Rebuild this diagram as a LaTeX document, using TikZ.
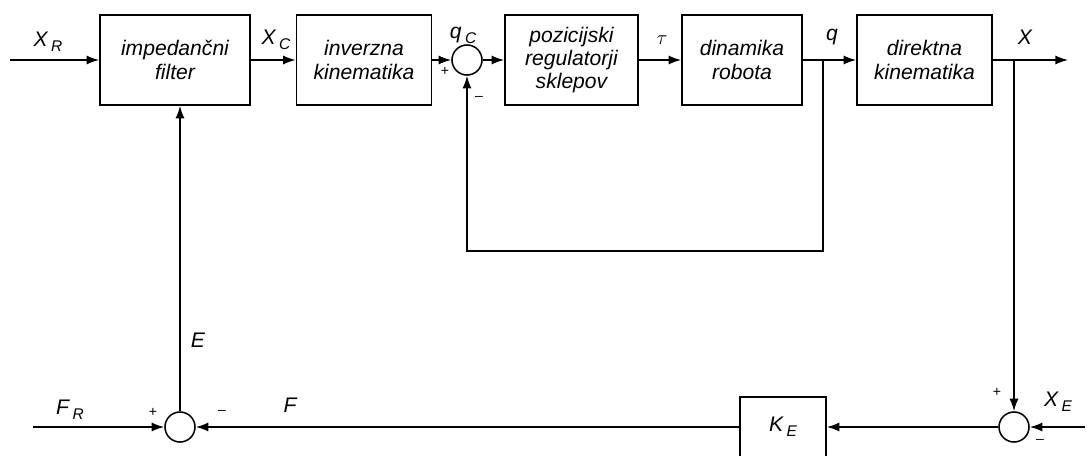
\documentclass[tikz,border=0pt]{standalone}
\usepackage{fontspec}
\setmainfont{Liberation Sans}
\usetikzlibrary{arrows.meta, positioning}

\newcommand{\lowsub}[1]{\,\raisebox{-0.45ex}{\fontsize{11}{12}\selectfont #1}}

\begin{document}
\begin{tikzpicture}[
                x=0.025cm, y=-0.025cm,
                block/.style={draw, rectangle, align=center, inner sep=0pt, line width=1.1pt,
                              minimum height=2.25cm, font=\itshape\fontsize{15}{16.5}\selectfont},
                sum/.style={draw, circle, minimum size=0.75cm, inner sep=0pt, line width=1.1pt},
                lbl/.style={inner sep=0pt, font=\itshape\fontsize{15}{17}\selectfont},
                sgn/.style={inner sep=0pt, font=\fontsize{10}{12}\selectfont},
                arrow/.style={-{Latex[length=9pt, width=6.5pt]}, line width=1.1pt}]
            \useasboundingbox (0,0) rectangle (1087,455);
            \clip (0,0) rectangle (1087,455);

            % Bloki
            \node[block, minimum width=3.75cm]  (filter) at (175,60)   {impedančni\\filter};
            \node[block, minimum width=3.375cm] (invkin) at (364,60)   {inverzna\\kinematika};
            \node[sum]                          (sum1)   at (467,60)   {};
            \node[block, minimum width=3.325cm] (posreg) at (571.5,60) {pozicijski\\regulatorji\\sklepov};
            \node[block, minimum width=3cm]     (dyn)    at (742,60)   {dinamika\\robota};
            \node[block, minimum width=3.375cm] (dirkin) at (924.5,60) {direktna\\kinematika};
            \node[sum]                          (sum3)   at (1014,427) {};
            \node[block, minimum width=2.15cm, minimum height=1.5cm, font=\itshape\fontsize{15}{17}\selectfont]
                                                (gainke) at (783,427)  {K\lowsub{E}};
            \node[sum]                          (sum2)   at (180,427)  {};

            % Tocke
            \coordinate (xrin)  at (10,60);
            \coordinate (qbr)   at (823,60);
            \coordinate (loopr) at (823,251);
            \coordinate (xbr)   at (1014,60);
            \coordinate (xout)  at (1068,60);
            \coordinate (xein)  at (1085,427);
            \coordinate (frin)  at (33,427);

            % Povezave
            \draw[arrow] (xrin) -- (filter);
            \draw[arrow] (filter) -- (invkin);
            \draw[arrow] (invkin) -- (sum1);
            \draw[arrow] (sum1) -- (posreg);
            \draw[arrow] (posreg) -- (dyn);
            \draw[arrow] (dyn) -- (dirkin);
            \draw[arrow] (qbr) -- (loopr) -| (sum1);
            \draw[arrow] (dirkin) -- (xout);
            \draw[arrow] (xbr) -- (sum3);
            \draw[arrow] (xein) -- (sum3);
            \draw[arrow] (sum3) -- (gainke);
            \draw[arrow] (gainke) -- (sum2);
            \draw[arrow] (frin) -- (sum2);
            \draw[arrow] (sum2) -- (sum2|-filter.south);

            % Oznake
            \node[lbl] (lxr) at (48,42)   {X\lowsub{R}};
            \node[lbl] (lxc) at (276,40)  {X\lowsub{C}};
            \node[lbl] (lqc) at (463,35)  {q\lowsub{C}};
            \node[lbl] (ltau) at (662,40) {$\tau$};
            \node[lbl] (lq) at (832,37)   {q};
            \node[lbl] (lx) at (1025,37)  {X};
            \node[lbl] (le) at (198,340)  {E};
            \node[lbl] (lfr) at (70,410)  {F\lowsub{R}};
            \node[lbl] (lf) at (290,405)  {F};
            \node[lbl] (lxe) at (1058,402) {X\lowsub{E}};

            \node[sgn] (p1) at (445,71)  {+};
            \node[sgn] (m1) at (479,98)  {--};
            \node[sgn] (p2) at (153,412) {+};
            \node[sgn] (m2) at (222,412) {--};
            \node[sgn] (p3) at (997,392) {+};
            \node[sgn] (m3) at (1040,441) {--};

        \end{tikzpicture}
\end{document}
